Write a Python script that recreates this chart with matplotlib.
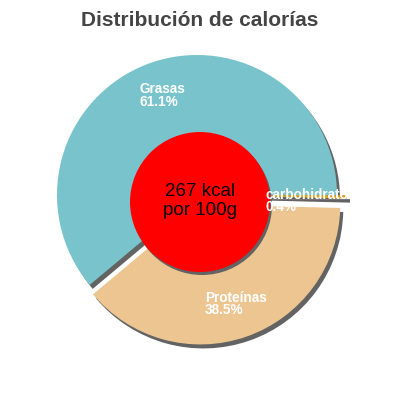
import matplotlib
matplotlib.use("Agg")
import matplotlib.pyplot as plt
from matplotlib.patches import Circle, Rectangle

# Data
categories = ["carbohidratos", "Proteínas", "Grasas"]
values = [0.4, 38.5, 61.1]
pct_labels = ["0.4%", "38.5%", "61.1%"]
colors = ["#dea21f", "#ecc591", "#79c4cc"]
center_text = ["267 kcal", "por 100g"]
title = "Distribución de calorías"

H = 400.0
def Y(y):  # screen y (down) -> data y (up)
    return H - y

plt.rcParams['font.family'] = ['Liberation Sans', 'DejaVu Sans']

fig = plt.figure(figsize=(4, 4), dpi=100)
ax = fig.add_axes([0, 0, 1, 1])

cx, cy, R = 197, 195, 140
explode = [10, 10, 0]
shadow_off = (3, -4)
gray = "#636363"

# shadow pie
sw, _ = ax.pie(values, colors=[gray] * 3, startangle=0, counterclock=False,
               explode=explode, radius=R,
               center=(cx + shadow_off[0], Y(cy) + shadow_off[1]),
               wedgeprops=dict(linewidth=0), frame=True)
# main pie
mw, _ = ax.pie(values, colors=colors, startangle=0, counterclock=False,
               explode=explode, radius=R, center=(cx, Y(cy)),
               wedgeprops=dict(linewidth=0), frame=True)
for w in sw:
    w.set_zorder(1)
for w in mw:
    w.set_zorder(1.5)
sw[0].set_zorder(2.4)
mw[0].set_zorder(2.5)

# center circle with shadow
rcx, rcy, rr = 200, 202, 70
ax.add_patch(Circle((rcx + 2, Y(rcy) - 3), rr, color=gray, zorder=3.9, linewidth=0))
ax.add_patch(Circle((rcx, Y(rcy)), rr, color="#ff0000", zorder=4, linewidth=0))
ax.text(rcx, Y(196), center_text[0], ha='center', va='baseline', fontsize=13.5,
        color='black', zorder=5)
ax.text(rcx, Y(215), center_text[1], ha='center', va='baseline', fontsize=13.5,
        color='black', zorder=5)

# slice labels
lab_style = dict(ha='left', va='baseline', fontsize=9.8, color='white',
                 fontweight='bold')
ax.text(139, Y(93), categories[2], zorder=2, **lab_style)
ax.text(139, Y(106), pct_labels[2], zorder=2, **lab_style)
ax.text(205, Y(302), categories[1], zorder=2, **lab_style)
ax.text(205, Y(314), pct_labels[1], zorder=2, **lab_style)
clip = Rectangle((0, 0), 343, H, transform=ax.transData)
t1 = ax.text(265, Y(199), categories[0], zorder=4.5, **lab_style)
t2 = ax.text(265, Y(211), pct_labels[0], zorder=4.5, **lab_style)
for t in (t1, t2):
    t.set_clip_path(clip)

ax.text(200, Y(26), title, ha='center', va='baseline', fontsize=15,
        fontweight='bold', color='#444444')

ax.set_xlim(0, 400)
ax.set_ylim(0, 400)
ax.set_aspect('equal')
ax.axis('off')
fig.savefig("out.png", dpi=100)
